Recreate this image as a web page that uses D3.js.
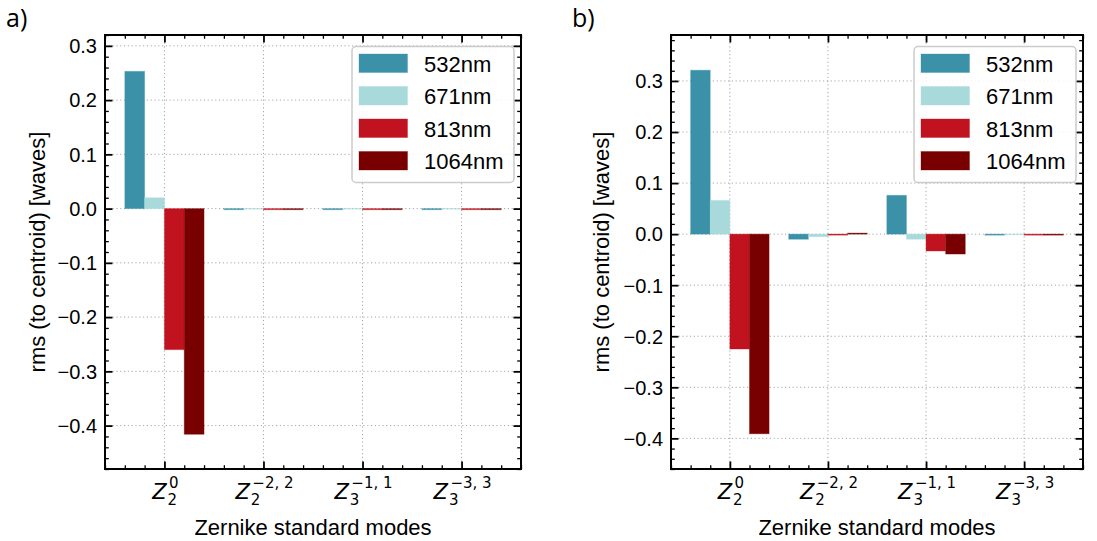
<!DOCTYPE html>
<html>
<head>
<meta charset="utf-8">
<script src="https://cdn.jsdelivr.net/npm/d3@7"></script>
<style>
  html, body { margin: 0; padding: 0; background: #fff; }
  svg { display: block; }
  text { font-family: "Liberation Sans", Arial, Helvetica, sans-serif; fill: #000; }
</style>
</head>
<body>
<svg id="fig" width="1097" height="541"></svg>
<script>
// Zernike modes on the x axis (subscript / superscript of Z)
const modeSub = ["2", "2", "3", "3"];
const modeSup = ["0", "\u22122, 2", "\u22121, 1", "\u22123, 3"];

// Wavelength series and their colours
const wavelengths = ["532nm", "671nm", "813nm", "1064nm"];
const colors = ["#3a91a8", "#a8dadb", "#c1121f", "#780000"];

// Panel a) rms per mode, one array per wavelength
const a532  = [0.253, -0.002, -0.002, -0.002];
const a671  = [0.020, -0.001, -0.001, -0.001];
const a813  = [-0.260, -0.002, -0.002, -0.002];
const a1064 = [-0.416, -0.002, -0.002, -0.002];

// Panel b) rms per mode, one array per wavelength
const b532  = [0.321, -0.010, 0.076, -0.002];
const b671  = [0.066, -0.005, -0.010, -0.001];
const b813  = [-0.225, -0.002, -0.033, -0.002];
const b1064 = [-0.391, 0.002, -0.039, -0.002];

// Axis ranges and tick values
const xDomain = [-0.6, 3.6];
const yDomainA = [-0.48, 0.32];
const yDomainB = [-0.46, 0.39];
const yTicks = [-0.4, -0.3, -0.2, -0.1, 0.0, 0.1, 0.2, 0.3];
const xTicks = [0, 1, 2, 3];
const panelLabels = ["a)", "b)"];
const xTitle = "Zernike standard modes";
const yTitle = "rms (to centroid) [waves]";

const svg = d3.select("#fig");
const barWidth = 0.2;
const fmt = v => d3.format(".1f")(v).replace("-", "\u2212");

function range(a, b, step) {
  const out = [];
  const n = Math.round((b - a) / step);
  for (let i = 0; i <= n; i++) out.push(+(a + i * step).toFixed(6));
  return out;
}

function drawPanel(cfg) {
  const { left, top, width, height, yDomain, series, label, labelX, yTitleX } = cfg;
  const x = d3.scaleLinear().domain(xDomain).range([0, width]);
  const y = d3.scaleLinear().domain(yDomain).range([height, 0]);
  const g = svg.append("g").attr("transform", `translate(${left},${top})`);

  // dotted grid at the major ticks
  const grid = g.append("g").attr("stroke", "#a6a6a6").attr("stroke-width", 1)
    .attr("stroke-dasharray", "1.2,2.6");
  grid.selectAll(".gx").data(xTicks).join("line")
    .attr("x1", d => x(d)).attr("x2", d => x(d)).attr("y1", 0).attr("y2", height);
  grid.selectAll(".gy").data(yTicks).join("line")
    .attr("y1", d => y(d)).attr("y2", d => y(d)).attr("x1", 0).attr("x2", width);

  // bars, edge-aligned around each mode position
  series.forEach((vals, i) => {
    g.append("g").selectAll("rect").data(vals).join("rect")
      .attr("x", (d, k) => x(k + (i - 2) * barWidth))
      .attr("width", x(barWidth) - x(0))
      .attr("y", d => y(Math.max(0, d)))
      .attr("height", d => Math.abs(y(d) - y(0)))
      .attr("fill", colors[i])
      .attr("stroke", colors[i]).attr("stroke-opacity", 0.35).attr("stroke-width", 1);
  });

  // ticks: inward on all four sides
  const majorLen = 7.5, minorLen = 3.8;
  const xMinor = range(-0.6, 3.6, 0.2).filter(v => Math.abs(v - Math.round(v)) > 1e-6);
  const yMinor = range(Math.ceil(yDomain[0] / 0.02) * 0.02, Math.floor(yDomain[1] / 0.02) * 0.02, 0.02)
    .filter(v => Math.abs(v * 10 - Math.round(v * 10)) > 1e-6);

  const axes = [
    [d3.axisBottom(x), `translate(0,${height})`, xTicks, xMinor],
    [d3.axisTop(x), `translate(0,0)`, xTicks, xMinor],
    [d3.axisLeft(y), `translate(0,0)`, yTicks, yMinor],
    [d3.axisRight(y), `translate(${width},0)`, yTicks, yMinor]
  ];
  axes.forEach(([ax, tr, major, minor], idx) => {
    const mk = (vals, len) => {
      const a = ax.tickValues(vals).tickSize(-len).tickSizeOuter(0).tickFormat("");
      const sel = g.append("g").attr("transform", tr).call(a);
      sel.select(".domain").remove();
      sel.selectAll(".tick line").attr("stroke", "#000").attr("stroke-width", len === majorLen ? 1.8 : 1.3);
      return sel;
    };
    mk(minor, minorLen);
    const sel = mk(major, majorLen);
    if (idx === 2) {
      sel.selectAll(".tick text").text(d => fmt(d))
        .attr("x", -8).style("font-size", "20px").attr("dy", "0.34em");
    }
    if (idx === 0) {
      // Z_n^m labels built from tspans
      sel.selectAll(".tick").each(function (d) {
        const tk = d3.select(this);
        tk.select("text").remove();
        const t = tk.append("text").attr("y", 29.5)
          .style("font-family", "'DejaVu Sans', sans-serif").style("font-size", "21px");
        t.append("tspan").text("Z").style("font-style", "italic");
        const sub = t.append("tspan").attr("dx", 1).attr("dy", 6).style("font-size", "15px").text(modeSub[d]);
        const w = sub.node().getComputedTextLength();
        t.append("tspan").attr("dx", -w + 1.5).attr("dy", -17).style("font-size", "15px").text(modeSup[d]);
        const bb = t.node().getBBox();
        t.attr("x", -bb.x - bb.width / 2);
      });
    }
  });

  // frame
  g.append("rect").attr("width", width).attr("height", height)
    .attr("fill", "none").attr("stroke", "#000").attr("stroke-width", 2);

  // legend
  const lg = g.append("g").attr("transform", `translate(${width - 169},${11.5})`);
  lg.append("rect").attr("width", 162).attr("height", 136).attr("rx", 4)
    .attr("fill", "#fff").attr("fill-opacity", 0.85)
    .attr("stroke", "#cccccc").attr("stroke-width", 1.5);
  wavelengths.forEach((wl, i) => {
    const row = lg.append("g").attr("transform", `translate(7,${7.5 + i * 32.5})`);
    row.append("rect").attr("width", 48.5).attr("height", 18.5).attr("fill", colors[i])
      .attr("stroke", colors[i]).attr("stroke-opacity", 0.35);
    row.append("text").attr("x", 65).attr("y", 17.5).style("font-size", "22px").text(wl);
  });

  // axis titles and panel label
  g.append("text").attr("x", width / 2).attr("y", 535 - top).attr("text-anchor", "middle")
    .style("font-size", "22px").text(xTitle);
  g.append("text").attr("transform", `translate(${yTitleX - left},${height / 2}) rotate(-90)`)
    .attr("text-anchor", "middle").style("font-size", "22px").text(yTitle);
  svg.append("text").attr("x", labelX).attr("y", 27)
    .style("font-family", "'Open Sans', 'Noto Sans', sans-serif").style("font-size", "25px").text(label);
}

drawPanel({ left: 105, top: 35, width: 416, height: 434, yDomain: yDomainA,
  series: [a532, a671, a813, a1064], label: panelLabels[0], labelX: 6, yTitleX: 45 });
drawPanel({ left: 671, top: 35, width: 412, height: 434, yDomain: yDomainB,
  series: [b532, b671, b813, b1064], label: panelLabels[1], labelX: 572, yTitleX: 609 });
</script>
</body>
</html>
